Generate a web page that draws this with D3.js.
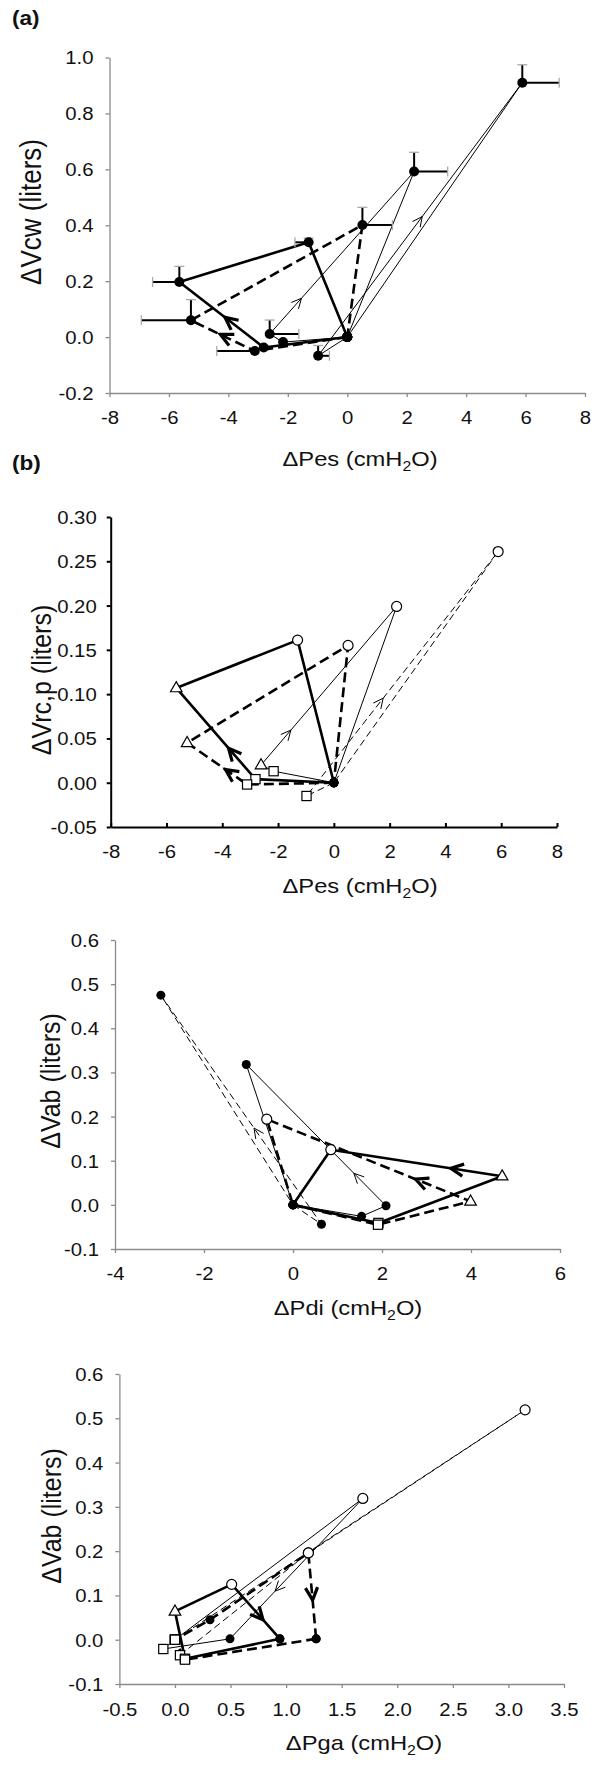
<!DOCTYPE html>
<html><head><meta charset="utf-8">
<script src="https://cdn.jsdelivr.net/npm/d3@7"></script>
<style>body{margin:0;background:#fff}svg{display:block}</style>
</head><body><svg id="c" width="600" height="1765"></svg>
<script>
// ---------------- DATA ----------------
// Panel (a): ΔVcw vs ΔPes
const aSolidX = [0, -2.81, -5.65, -1.30, 0];
const aSolidY = [0, -0.037, 0.197, 0.339, 0];
const aDashX  = [0, -3.11, -5.26, 0.51, 0];
const aDashY  = [0, -0.050, 0.060, 0.401, 0];
const aThinX  = [0, -2.16, -2.61, 2.25, 0];
const aThinY  = [0, -0.018, 0.011, 0.592, 0];
const aThin2X = [0, -0.98, 5.89, 0];
const aThin2Y = [0, -0.067, 0.910, 0];
// error bars (one-sided) in panel (a)
const aErrX  = [5.89, 2.25, 0.51, -1.30, -5.65, -5.26, -3.11, -2.61, -0.98];
const aErrY  = [0.910, 0.592, 0.401, 0.339, 0.197, 0.060, -0.050, 0.011, -0.067];
const aErrDx = [1.24, 1.13, 1.01, -0.46, -0.90, -1.67, -1.28, 0.98, 0.38];
const aErrDy = [0.064, 0.069, 0.063, 0.015, 0.056, 0.074, 0, 0.050, 0.037];

// Panel (b): ΔVrc,p vs ΔPes
const bSolidX = [0, -2.81, -5.65, -1.30, 0];
const bSolidY = [0, 0.004, 0.107, 0.161, 0];
const bDashX  = [0, -3.11, -5.26, 0.51, 0];
const bDashY  = [0, -0.002, 0.045, 0.155, 0];
const bThinX  = [0, -2.16, -2.61, 2.25, 0];
const bThinY  = [0, 0.013, 0.020, 0.199, 0];
const bThin2X = [0, -0.98, 5.89, 0];
const bThin2Y = [0, -0.015, 0.261, 0];

// Panel (c): ΔVab vs ΔPdi
const cSolidX = [0, 1.92, 4.70, 0.85, 0];
const cSolidY = [0, -0.041, 0.065, 0.125, 0];
const cDashX  = [0, 1.91, 3.99, -0.59, 0];
const cDashY  = [0, -0.045, 0.008, 0.194, 0];
const cThinX  = [0, 1.54, 2.09, -1.05, 0];
const cThinY  = [0, -0.026, -0.002, 0.318, 0];
const cThin2X = [0, 0.64, -2.97, 0];
const cThin2Y = [0, -0.044, 0.475, 0];

// Panel (d): ΔVab vs ΔPga
const dSolidX = [0.944, 0.09, 0.0, 0.51, 0.944];
const dSolidY = [0.002, -0.043, 0.064, 0.125, 0.002];
const dDashX  = [1.27, 0.09, 0.0, 0.315, 1.20, 1.27];
const dDashY  = [0.002, -0.045, 0.0, 0.045, 0.196, 0.002];
const dThinX  = [0, 1.69, 0.495, -0.105, 0];
const dThinY  = [0, 0.319, 0.002, -0.021, 0];
const dThin2X = [0.045, 1.20, 3.15, 0];
const dThin2Y = [-0.035, 0.196, 0.519, 0];

// ticks
const aXTicks = [-8, -6, -4, -2, 0, 2, 4, 6, 8];
const aYTicks = [-0.2, 0, 0.2, 0.4, 0.6, 0.8, 1.0];
const bXTicks = [-8, -6, -4, -2, 0, 2, 4, 6, 8];
const bYTicks = [-0.05, 0, 0.05, 0.10, 0.15, 0.20, 0.25, 0.30];
const cXTicks = [-4, -2, 0, 2, 4, 6];
const cYTicks = [-0.1, 0, 0.1, 0.2, 0.3, 0.4, 0.5, 0.6];
const dXTicks = [-0.5, 0, 0.5, 1.0, 1.5, 2.0, 2.5, 3.0, 3.5];
const dYTicks = [-0.1, 0, 0.1, 0.2, 0.3, 0.4, 0.5, 0.6];

// ---------------- DRAWING ----------------
const FONT = '"Liberation Sans", Arial, Helvetica, sans-serif';
const SX = 1.13;
const loc = d3.formatLocale({decimal: ".", thousands: ",", grouping: [3], currency: ["", ""], minus: "-"});
const svg = d3.select("#c");
svg.append("rect").attr("width", 600).attr("height", 1765).attr("fill", "#fff");

const STY = {
  thick: {w: 2.6, dash: null},
  thickDash: {w: 2.6, dash: "10,5"},
  thin: {w: 1, dash: null},
  thinDash: {w: 1, dash: "7,4"}
};

function marker(g, type, cx, cy, r) {
  if (type === "dot") {
    g.append("circle").attr("cx", cx).attr("cy", cy).attr("r", r || 4.5).attr("fill", "#000");
  } else if (type === "circle") {
    g.append("circle").attr("cx", cx).attr("cy", cy).attr("r", 5).attr("fill", "#fff").attr("stroke", "#000").attr("stroke-width", 1.2);
  } else if (type === "square") {
    g.append("rect").attr("x", cx - 4.6).attr("y", cy - 4.6).attr("width", 9.2).attr("height", 9.2).attr("fill", "#fff").attr("stroke", "#000").attr("stroke-width", 1.2);
  } else if (type === "tri") {
    g.append("path").attr("d", `M${cx},${cy - 6.3}L${cx + 5.8},${cy + 3.8}L${cx - 5.8},${cy + 3.8}Z`).attr("fill", "#fff").attr("stroke", "#000").attr("stroke-width", 1.2);
  }
}

function panel(cfg) {
  const g = svg.append("g");
  const x = d3.scaleLinear().domain(cfg.xDomain).range(cfg.xRange);
  const y = d3.scaleLinear().domain(cfg.yDomain).range(cfg.yRange);

  const ya = g.append("g").attr("transform", `translate(${cfg.xRange[0]},0)`)
    .call(d3.axisLeft(y).tickValues(cfg.yTicks).tickFormat(loc.format(cfg.yFmt)).tickSizeOuter(0).tickSizeInner(4));
  const xa = g.append("g").attr("transform", `translate(0,${cfg.yRange[0]})`)
    .call(d3.axisBottom(x).tickValues(cfg.xTicks).tickFormat(loc.format(cfg.xFmt)).tickSizeOuter(0).tickSizeInner(cfg.xTickIn ? -4 : 4));
  [ya, xa].forEach(a => {
    a.attr("font-size", 18).attr("font-family", FONT);
    a.select(".domain").attr("stroke", cfg.axisColor).attr("stroke-width", cfg.axisWidth);
    a.selectAll(".tick line").attr("stroke", cfg.axisColor).attr("stroke-width", cfg.axisWidth);
    a.selectAll(".tick text").attr("fill", "#111");
  });
  ya.selectAll(".tick text").attr("x", 0).attr("dy", "0.36em").attr("text-anchor", "end")
    .attr("transform", `translate(${-cfg.yLabGap},0) scale(${SX},1)`);
  xa.selectAll(".tick text").attr("y", 0).attr("dy", "0.36em")
    .attr("transform", `translate(0,${cfg.xLabOff}) scale(${SX},1)`);

  // x title
  const xt = g.append("text").attr("transform", `translate(${cfg.xTitlePos[0]},${cfg.xTitlePos[1]}) scale(${SX},1)`)
    .attr("text-anchor", "middle").attr("dy", "0.36em").attr("font-size", 21).attr("font-family", FONT).attr("fill", "#111");
  xt.append("tspan").text(cfg.xTitle + " (cmH");
  xt.append("tspan").attr("font-size", 14).attr("dy", 5).text("2");
  xt.append("tspan").attr("dy", -5).text("O)");
  // y title
  g.append("text").attr("transform", `translate(${cfg.yTitlePos[0]},${cfg.yTitlePos[1]}) scale(${SX},1) rotate(-90)`)
    .attr("text-anchor", "middle").attr("dy", "0.36em").attr("font-size", cfg.yTitleSize).attr("font-family", FONT).attr("fill", "#111")
    .text(cfg.yTitle);
  if (cfg.tag) {
    g.append("text").attr("transform", `translate(${cfg.tagPos[0]},${cfg.tagPos[1]}) scale(${SX},1)`)
      .attr("dy", "0.36em").attr("font-size", 20).attr("font-weight", "bold").attr("font-family", FONT).attr("fill", "#111").text(cfg.tag);
  }

  const line = d3.line().x(d => x(d[0])).y(d => y(d[1]));
  cfg.loops.forEach(L => {
    const pts = d3.zip(L.xs, L.ys);
    const s = STY[L.style];
    g.append("path").attr("d", line(pts)).attr("fill", "none").attr("stroke", "#000")
      .attr("stroke-width", s.w).attr("stroke-dasharray", s.dash).attr("stroke-linejoin", "round");
    if (L.arrow) {
      const [i, t] = L.arrow;
      const x0 = x(pts[i][0]), y0 = y(pts[i][1]), x1 = x(pts[i + 1][0]), y1 = y(pts[i + 1][1]);
      const px = x0 + t * (x1 - x0), py = y0 + t * (y1 - y0);
      const ang = Math.atan2(y1 - y0, x1 - x0);
      const thick = L.style.startsWith("thick");
      const len = thick ? 14 : 11, th = 0.45;
      const b1 = [px - len * Math.cos(ang - th), py - len * Math.sin(ang - th)];
      const b2 = [px - len * Math.cos(ang + th), py - len * Math.sin(ang + th)];
      g.append("path").attr("d", `M${b1}L${px},${py}L${b2}`).attr("fill", "none").attr("stroke", "#000")
        .attr("stroke-width", thick ? 3.2 : 1).attr("stroke-linejoin", "miter").attr("stroke-linecap", "butt");
    }
  });

  if (cfg.err) {
    const e = cfg.err;
    e.px.forEach((px, i) => {
      const cx = x(px), cy = y(e.py[i]);
      if (e.dx[i] !== 0) {
        const ex = x(px + e.dx[i]);
        g.append("line").attr("x1", cx).attr("y1", cy).attr("x2", ex).attr("y2", cy).attr("stroke", "#000").attr("stroke-width", 2);
        g.append("line").attr("x1", ex).attr("y1", cy - 5).attr("x2", ex).attr("y2", cy + 5).attr("stroke", "#aaa").attr("stroke-width", 1.3);
      }
      if (e.dy[i] !== 0) {
        const ey = y(e.py[i] + e.dy[i]);
        g.append("line").attr("x1", cx).attr("y1", cy).attr("x2", cx).attr("y2", ey).attr("stroke", "#000").attr("stroke-width", 2);
        g.append("line").attr("x1", cx - 5).attr("y1", ey).attr("x2", cx + 5).attr("y2", ey).attr("stroke", "#aaa").attr("stroke-width", 1.3);
      }
    });
  }

  cfg.loops.forEach(L => {
    L.xs.forEach((v, i) => marker(g, L.marks[i], x(v), y(L.ys[i]), cfg.dotR));
  });
}

const M5 = ["dot", "square", "tri", "circle", "dot"];
const M4 = ["dot", "square", "circle", "dot"];
const D5 = ["dot", "dot", "dot", "dot", "dot"];
const D4 = ["dot", "dot", "dot", "dot"];

panel({
  xDomain: [-8, 8], xRange: [109.5, 585], yDomain: [-0.2, 1.0], yRange: [393, 57.5],
  xTicks: aXTicks, yTicks: aYTicks, xFmt: "d", yFmt: ".1f",
  axisColor: "#8a8a8a", axisWidth: 1.3, yLabGap: 16, xLabOff: 25,
  xTitle: "\u0394Pes", xTitlePos: [360, 458], yTitle: "\u0394Vcw (liters)", yTitlePos: [30, 212], yTitleSize: 26,
  tag: "(a)", tagPos: [12, 18], dotR: 5,
  loops: [
    {xs: aSolidX, ys: aSolidY, style: "thick", marks: D5, arrow: [1, 0.46]},
    {xs: aDashX, ys: aDashY, style: "thickDash", marks: D5, arrow: [1, 0.54]},
    {xs: aThinX, ys: aThinY, style: "thin", marks: D5, arrow: [2, 0.22]},
    {xs: aThin2X, ys: aThin2Y, style: "thin", marks: D4, arrow: [1, 0.51]}
  ],
  err: {px: aErrX, py: aErrY, dx: aErrDx, dy: aErrDy}
});

panel({
  xDomain: [-8, 8], xRange: [110.7, 557], yDomain: [-0.05, 0.30], yRange: [827, 517],
  xTicks: bXTicks, yTicks: bYTicks, xFmt: "d", yFmt: ".2f", xTickIn: true,
  axisColor: "#000", axisWidth: 2, yLabGap: 14, xLabOff: 25,
  xTitle: "\u0394Pes", xTitlePos: [360, 885], yTitle: "\u0394Vrc,p (liters)", yTitlePos: [41, 680], yTitleSize: 25,
  tag: "(b)", tagPos: [12, 463], dotR: 4.5,
  loops: [
    {xs: bSolidX, ys: bSolidY, style: "thick", marks: M5, arrow: [1, 0.34]},
    {xs: bDashX, ys: bDashY, style: "thickDash", marks: M5, arrow: [1, 0.36]},
    {xs: bThinX, ys: bThinY, style: "thin", marks: M5, arrow: [2, 0.22]},
    {xs: bThin2X, ys: bThin2Y, style: "thinDash", marks: M4, arrow: [1, 0.40]}
  ]
});

panel({
  xDomain: [-4, 6], xRange: [115, 560], yDomain: [-0.1, 0.6], yRange: [1249, 940],
  xTicks: cXTicks, yTicks: cYTicks, xFmt: "d", yFmt: ".1f",
  axisColor: "#8a8a8a", axisWidth: 1.3, yLabGap: 16, xLabOff: 25,
  xTitle: "\u0394Pdi", xTitlePos: [348, 1307], yTitle: "\u0394Vab (liters)", yTitlePos: [50, 1081], yTitleSize: 25,
  dotR: 4.5,
  loops: [
    {xs: cThin2X, ys: cThin2Y, style: "thinDash", marks: D4, arrow: [1, 0.42]},
    {xs: cThinX, ys: cThinY, style: "thin", marks: D5, arrow: [2, 0.23]},
    {xs: cSolidX, ys: cSolidY, style: "thick", marks: M5, arrow: [2, 0.30]},
    {xs: cDashX, ys: cDashY, style: "thickDash", marks: M5, arrow: [2, 0.27]}
  ]
});

panel({
  xDomain: [-0.5, 3.5], xRange: [119.4, 564], yDomain: [-0.1, 0.6], yRange: [1684, 1374],
  xTicks: dXTicks, yTicks: dYTicks, xFmt: ".1f", yFmt: ".1f",
  axisColor: "#8a8a8a", axisWidth: 1.3, yLabGap: 16, xLabOff: 26,
  xTitle: "\u0394Pga", xTitlePos: [364, 1742], yTitle: "\u0394Vab (liters)", yTitlePos: [51, 1516], yTitleSize: 25,
  dotR: 4.5,
  loops: [
    {xs: dThin2X, ys: dThin2Y, style: "thinDash", marks: ["square", "circle", "circle", "square"], arrow: null},
    {xs: dThinX, ys: dThinY, style: "thin", marks: ["square", "circle", "dot", "square", "square"], arrow: [1, 0.66]},
    {xs: dSolidX, ys: dSolidY, style: "thick", marks: ["dot", "square", "tri", "circle", "dot"], arrow: [3, 0.65]},
    {xs: dDashX, ys: dDashY, style: "thickDash", marks: ["dot", "square", "square", "dot", "circle", "dot"], arrow: [4, 0.55]}
  ]
});
</script></body></html>
